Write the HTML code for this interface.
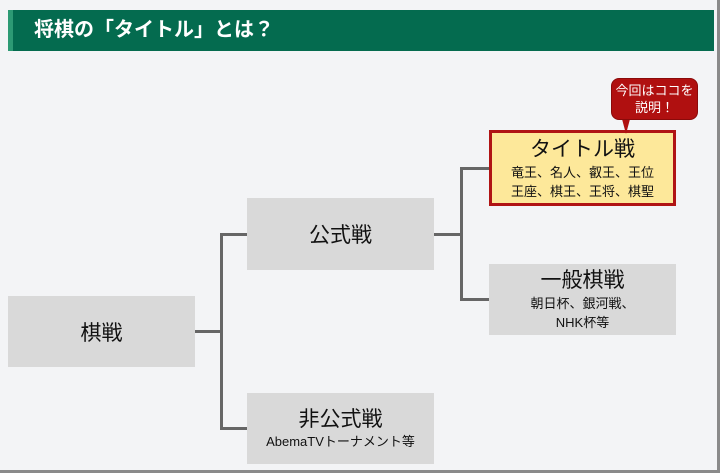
<!DOCTYPE html>
<html><head><meta charset="utf-8"><style>
*{margin:0;padding:0;box-sizing:border-box}
body{width:720px;height:473px;overflow:hidden;background:#f3f4f6;position:relative;font-family:"Liberation Sans","Noto Sans CJK JP",sans-serif}
.frame{position:absolute;left:0;top:0;width:720px;height:473px;border-right:3px solid #8a8a8a;border-bottom:3px solid #8a8a8a}
.hdr{position:absolute;left:8px;top:10px;width:706px;height:41px;background:#046b4f;border-left:5px solid #2d9a74;color:#fff;font-weight:bold;font-size:20px;line-height:41px;padding-left:21px}
.box{position:absolute;background:#d9d9d9;text-align:center;color:#111;display:flex;flex-direction:column;justify-content:center;align-items:center}
.l{position:absolute;background:#666}
</style></head><body>
<div class="frame"></div>
<div class="hdr">将棋の「タイトル」とは？</div>
<div class="l" style="left:195px;top:330px;width:28px;height:3px"></div>
<div class="l" style="left:220px;top:233px;width:3px;height:197px"></div>
<div class="l" style="left:220px;top:233px;width:27px;height:3px"></div>
<div class="l" style="left:220px;top:427px;width:27px;height:3px"></div>
<div class="l" style="left:434px;top:233px;width:29px;height:3px"></div>
<div class="l" style="left:460px;top:167px;width:3px;height:133px"></div>
<div class="l" style="left:460px;top:167px;width:29px;height:3px"></div>
<div class="l" style="left:460px;top:298px;width:29px;height:3px"></div>
<div class="box" style="left:8px;top:296px;width:187px;height:71px;font-size:21px">棋戦</div>
<div class="box" style="left:247px;top:198px;width:187px;height:72px;font-size:21px">公式戦</div>
<div class="box" style="left:247px;top:393px;width:187px;height:71px"><div style="font-size:21px;line-height:26px">非公式戦</div><div style="font-size:13px;line-height:18px">AbemaTVトーナメント等</div></div>
<div class="box" style="left:489px;top:130px;width:187px;height:76px;background:#fde89a;border:3px solid #b01414"><div style="font-size:21px;line-height:27px">タイトル戦</div><div style="font-size:13px;line-height:19px">竜王、名人、叡王、王位<br>王座、棋王、王将、棋聖</div></div>
<div class="box" style="left:489px;top:264px;width:187px;height:71px"><div style="font-size:21px;line-height:26px">一般棋戦</div><div style="font-size:13px;line-height:19px">朝日杯、銀河戦、<br>NHK杯等</div></div>
<svg style="position:absolute;left:0;top:0" width="720" height="473"><path d="M622,119 L630,119 L626,134 Z" fill="#b01010"/></svg>
<div style="position:absolute;left:611px;top:78px;width:87px;height:42px;background:#b01010;border-radius:8px;color:#fff;font-size:13px;line-height:17px;text-align:center;padding-top:3px;border:1px solid #8a0a0a">今回はココを<br>説明！</div>
</body></html>
